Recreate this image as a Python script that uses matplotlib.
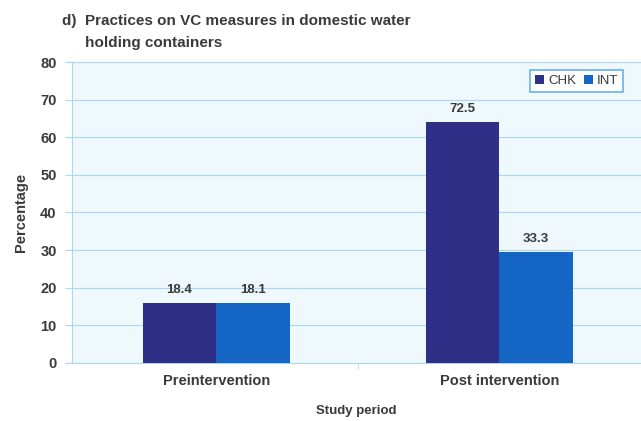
import matplotlib.pyplot as plt
import numpy as np

periods = ['Preintervention', 'Post intervention']
series = ['CHK', 'INT']
# bar heights as drawn in the picture, and the values printed above them
chk_heights = [16.0, 64.0]
int_heights = [16.0, 29.5]
chk_labels = ['18.4', '72.5']
int_labels = ['18.1', '33.3']
yticks = [0, 10, 20, 30, 40, 50, 60, 70, 80]

chk_color = '#2e2f86'
int_color = '#1565c4'
grid_color = '#a9d8f5'
text_color = '#3a3a3a'

plt.rcParams['font.family'] = ['Liberation Sans', 'DejaVu Sans']

fig = plt.figure(figsize=(6.41, 4.21), dpi=100)
ax = fig.add_axes([0.1123, 0.1378, 0.8877, 0.7149])
ax.set_facecolor('#eef8fd')

x = np.arange(len(periods))
w = 0.26
b1 = ax.bar(x - w / 2, chk_heights, w, color=chk_color, label=series[0], zorder=3)
b2 = ax.bar(x + w / 2, int_heights, w, color=int_color, label=series[1], zorder=3)

for bars, labels in [(b1, chk_labels), (b2, int_labels)]:
    for rect, lab in zip(bars, labels):
        ax.annotate(lab, (rect.get_x() + rect.get_width() / 2, rect.get_height()),
                    xytext=(0, 5), textcoords='offset points', ha='center', va='bottom',
                    fontsize=9.5, fontweight='bold', color=text_color)

ax.set_xlim(-0.51, 1.5)
ax.set_ylim(0, 80)
ax.set_yticks(yticks)
ax.set_xticks(x)
ax.set_xticklabels(periods)
ax.set_xticks([0.5, 1.5], minor=True)
ax.tick_params(axis='x', which='major', length=0, pad=8)
ax.tick_params(axis='x', which='minor', length=4, color=grid_color, direction='out')
ax.tick_params(axis='y', length=5, color=grid_color, pad=6)
for lab in ax.get_xticklabels() + ax.get_yticklabels():
    lab.set_fontweight('bold')
    lab.set_color(text_color)
    lab.set_fontsize(10.5)

ax.grid(axis='y', color=grid_color, linewidth=0.8, zorder=0)
for s in ['top', 'right']:
    ax.spines[s].set_visible(False)
for s in ['left', 'bottom']:
    ax.spines[s].set_color(grid_color)

ax.set_ylabel('Percentage', fontsize=10.5, fontweight='bold', color=text_color, labelpad=9)
ax.set_xlabel('Study period', fontsize=9.5, fontweight='bold', color=text_color, labelpad=12)

leg = ax.legend(loc='upper right', ncol=2, fontsize=9.5, handlelength=0.7, handleheight=0.7,
                handletextpad=0.3, columnspacing=0.6, borderpad=0.35, fancybox=False,
                bbox_to_anchor=(0.98, 0.995), frameon=True)
leg.get_frame().set_edgecolor('#4a9fe0')
leg.get_frame().set_linewidth(1.2)
for t in leg.get_texts():
    t.set_color(text_color)

fig.text(0.097, 0.95, 'd)  Practices on VC measures in domestic water', fontsize=11,
         fontweight='bold', color=text_color, va='center')
fig.text(0.1326, 0.897, 'holding containers', fontsize=11,
         fontweight='bold', color=text_color, va='center')

fig.savefig('out.png', dpi=100)
